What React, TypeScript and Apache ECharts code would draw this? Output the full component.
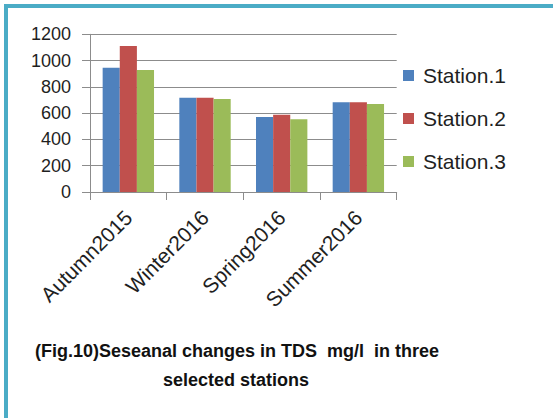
import React, { useEffect, useRef } from "react";
import * as echarts from "echarts";

const categories = ["Autumn2015", "Winter2016", "Spring2016", "Summer2016"];
const station1 = [946, 718, 571, 683];
const station2 = [1111, 718, 588, 683];
const station3 = [928, 708, 553, 670];
const seriesNames = ["Station.1", "Station.2", "Station.3"];
const captionLine1 = "(Fig.10)Seseanal changes in TDS  mg/l  in three";
const captionLine2 = "selected stations";

const FONT = "'Liberation Sans', Arial, sans-serif";

export default function App() {
  const ref = useRef<HTMLDivElement>(null);
  useEffect(() => {
    if (!ref.current) return;
    const chart = echarts.init(ref.current, null, { renderer: "svg" });
    const mk = (name: string, data: number[], color: string) => ({
      name,
      type: "bar",
      data,
      barGap: "0%",
      barCategoryGap: "33%",
      itemStyle: { color },
    });
    chart.setOption({
      animation: false,
      backgroundColor: "#ffffff",
      textStyle: { fontFamily: FONT },
      grid: { left: 90, right: 156.3, top: 34.3, bottom: 226, containLabel: false },
      legend: {
        orient: "vertical",
        left: 398,
        top: 60,
        itemWidth: 11,
        itemHeight: 11,
        itemGap: 22,
        icon: "rect",
        textStyle: { fontFamily: FONT, fontSize: 21, color: "#1f1f1f", padding: [0, 0, 0, 4] },
        data: seriesNames,
      },
      xAxis: {
        type: "category",
        data: categories,
        axisLine: { show: true, lineStyle: { color: "#8c8c8c", width: 1 } },
        axisTick: { show: true, length: 8, lineStyle: { color: "#8c8c8c" } },
        axisLabel: {
          rotate: 45,
          margin: 22,
          fontSize: 21,
          color: "#1f1f1f",
          fontFamily: FONT,
          interval: 0,
        },
      },
      yAxis: {
        type: "value",
        min: 0,
        max: 1200,
        interval: 200,
        axisLine: { show: true, lineStyle: { color: "#8c8c8c", width: 1 } },
        axisTick: { show: true, length: 8, lineStyle: { color: "#8c8c8c" } },
        splitLine: { show: true, lineStyle: { color: "#8c8c8c", width: 1 } },
        axisLabel: {
          fontSize: 18,
          color: "#1f1f1f",
          fontFamily: FONT,
          margin: 19,
          formatter: (v: number) => String(v),
        },
      },
      series: [
        mk(seriesNames[0], station1, "#4f81bd"),
        mk(seriesNames[1], station2, "#c0504d"),
        mk(seriesNames[2], station3, "#9bbb59"),
      ],
      graphic: [
        { type: "rect", shape: { x: 4, y: 4, width: 549, height: 4 }, style: { fill: "#4bacc6" } },
        { type: "rect", shape: { x: 4, y: 4, width: 4, height: 414 }, style: { fill: "#4bacc6" } },
        {
          type: "text",
          x: 35,
          y: 351,
          style: {
            text: captionLine1,
            fontSize: 18,
            fontWeight: "bold",
            fontFamily: FONT,
            fill: "#111111",
            textAlign: "left",
            textVerticalAlign: "middle",
          },
        },
        {
          type: "text",
          x: 236,
          y: 380,
          style: {
            text: captionLine2,
            fontSize: 18,
            fontWeight: "bold",
            fontFamily: FONT,
            fill: "#111111",
            textAlign: "center",
            textVerticalAlign: "middle",
          },
        },
      ],
    });
    return () => chart.dispose();
  }, []);
  return (
    <div
      ref={ref}
      style={{ position: "fixed", left: 0, top: 0, width: 553, height: 418 }}
    />
  );
}
